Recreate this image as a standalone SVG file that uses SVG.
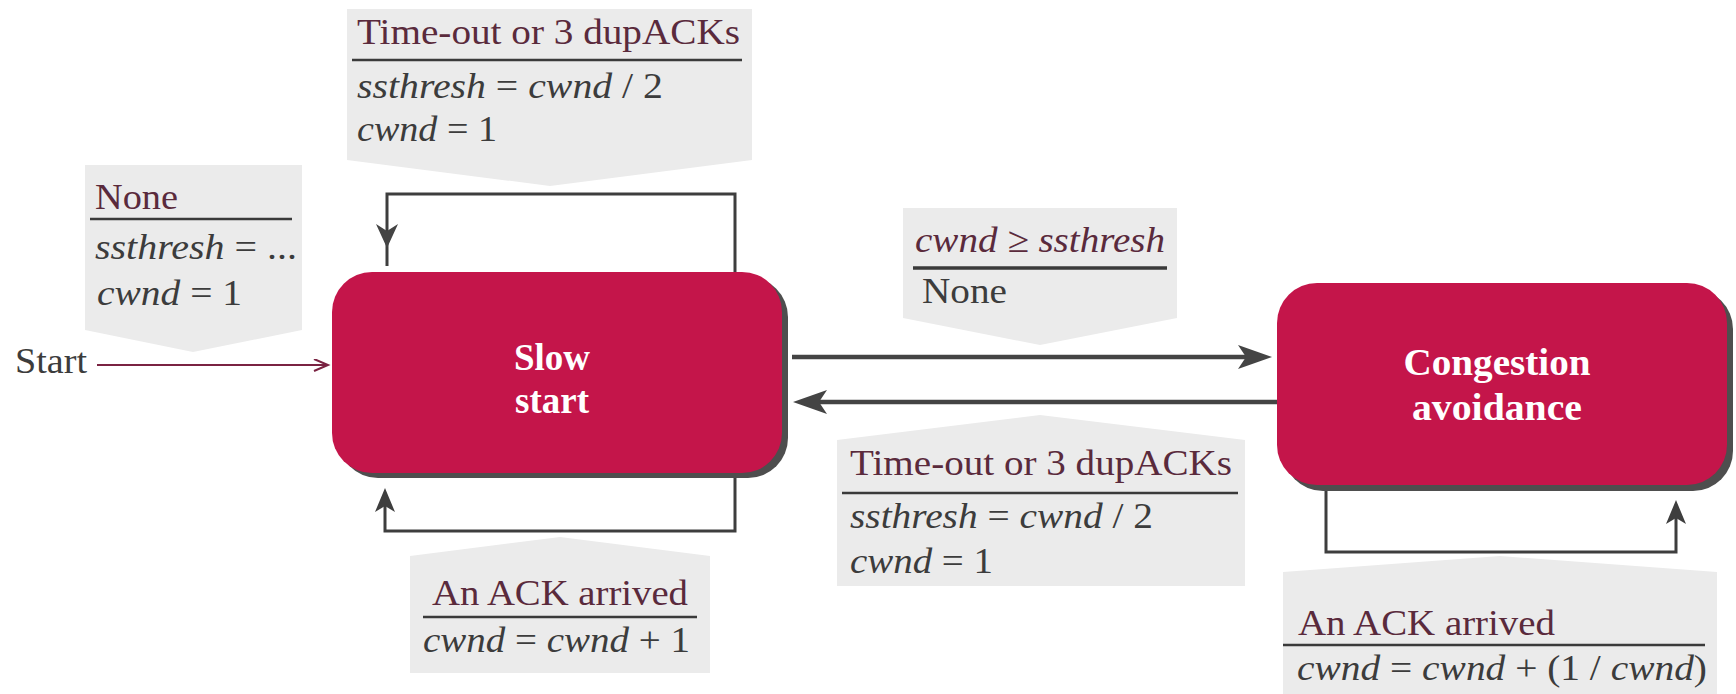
<svg xmlns="http://www.w3.org/2000/svg" width="1736" height="694" viewBox="0 0 1736 694">
<style>
  .bg { fill: #ebebeb; }
  .ev { font-family: "Liberation Serif", "Times New Roman", serif; font-size: 36px; fill: #5a2a3c; }
  .act { font-family: "Liberation Serif", "Times New Roman", serif; font-size: 36px; fill: #3c3c3c; }
  .it { font-style: italic; }
  .rule { stroke: #3a3a3a; stroke-width: 2.5; }
  .state { fill: #c4154a; }
  .shadow { fill: #4e4e4e; }
  .stxt { font-family: "Liberation Serif", "Times New Roman", serif; font-size: 37px; font-weight: bold; fill: #ffffff; text-anchor: middle; }
  .thick { fill: none; stroke: #444444; stroke-width: 4.5; }
  .loop { fill: none; stroke: #3e3e3e; stroke-width: 3; }
  .head { fill: #444444; }
</style>
<defs>
  <marker id="bigHead" markerUnits="userSpaceOnUse" markerWidth="36" markerHeight="26" refX="12" refY="12" orient="auto">
    <path d="M0,0 L34,12 L0,24 L8,12 Z" fill="#444444"/>
  </marker>
  <marker id="smallHead" markerUnits="userSpaceOnUse" markerWidth="26" markerHeight="22" refX="10" refY="10" orient="auto">
    <path d="M0,0 L24,10 L0,20 L6,10 Z" fill="#3e3e3e"/>
  </marker>
  <marker id="startHead" markerUnits="userSpaceOnUse" markerWidth="18" markerHeight="14" refX="15" refY="6" orient="auto">
    <path d="M1,0 L15,6 L1,12" fill="none" stroke="#7a2342" stroke-width="2"/>
  </marker>
</defs>

<!-- label backgrounds -->
<g id="label-backgrounds">
  <polygon class="bg" points="347,9 752,9 752,160 550,186 347,160"/>
  <polygon class="bg" points="85,165 302,165 302,330 193,352 85,330"/>
  <polygon class="bg" points="903,208 1177,208 1177,318 1040,345 903,318"/>
  <polygon class="bg" points="837,440 1040,415 1245,440 1245,586 837,586"/>
  <polygon class="bg" points="410,556 560,537 710,556 710,673 410,673"/>
  <polygon class="bg" points="1283,572 1500,556 1717,572 1717,694 1283,694"/>
</g>

<!-- connectors -->
<g id="connectors">
  <text x="15" y="373" class="act" textLength="72" lengthAdjust="spacingAndGlyphs">Start</text>
  <line x1="97" y1="365" x2="328" y2="365" stroke="#7a2342" stroke-width="2" marker-end="url(#startHead)"/>
  <line x1="792" y1="357" x2="1250" y2="357" class="thick" marker-end="url(#bigHead)"/>
  <line x1="1277" y1="402" x2="815" y2="402" class="thick" marker-end="url(#bigHead)"/>
  <!-- slow start top self-loop -->
  <path d="M735,272 V194 H387 V266" class="loop"/>
  <path d="M376,224 L387,248 L398,224 L387,231 Z" class="head"/>
  <!-- slow start bottom self-loop -->
  <path d="M735,478 V531 H385 V502" class="loop" marker-end="url(#smallHead)"/>
  <!-- congestion avoidance bottom self-loop -->
  <path d="M1326,490 V552 H1676 V514" class="loop" marker-end="url(#smallHead)"/>
</g>

<!-- states -->
<g id="slow-start">
  <rect class="shadow" x="338" y="277" width="450" height="201" rx="40" ry="40"/>
  <rect class="state" x="332" y="272" width="450" height="201" rx="40" ry="40"/>
  <text class="stxt" x="552" y="370">Slow</text>
  <text class="stxt" x="552" y="413">start</text>
</g>
<g id="congestion-avoidance">
  <rect class="shadow" x="1283" y="289" width="450" height="202" rx="40" ry="40"/>
  <rect class="state" x="1277" y="283" width="450" height="202" rx="40" ry="40"/>
  <text class="stxt" x="1497" y="375" textLength="187" lengthAdjust="spacingAndGlyphs">Congestion</text>
  <text class="stxt" x="1497" y="420" textLength="170" lengthAdjust="spacingAndGlyphs">avoidance</text>
</g>

<!-- labels -->
<g id="label-start">
  <text class="ev" x="95" y="209" textLength="83" lengthAdjust="spacingAndGlyphs">None</text>
  <line class="rule" x1="90" y1="219" x2="292" y2="219"/>
  <text class="act" x="95" y="259" textLength="202" lengthAdjust="spacingAndGlyphs"><tspan class="it">ssthresh</tspan> = ...</text>
  <text class="act" x="97" y="305" textLength="145" lengthAdjust="spacingAndGlyphs"><tspan class="it">cwnd</tspan> = 1</text>
</g>
<g id="label-ss-timeout">
  <text class="ev" x="357" y="44" textLength="383" lengthAdjust="spacingAndGlyphs">Time-out or 3 dupACKs</text>
  <line class="rule" x1="352" y1="60" x2="742" y2="60"/>
  <text class="act" x="357" y="98" textLength="306" lengthAdjust="spacingAndGlyphs"><tspan class="it">ssthresh</tspan> = <tspan class="it">cwnd</tspan> / 2</text>
  <text class="act" x="357" y="141" textLength="140" lengthAdjust="spacingAndGlyphs"><tspan class="it">cwnd</tspan> = 1</text>
</g>
<g id="label-ss-to-ca">
  <text class="ev it" x="915" y="252" textLength="250" lengthAdjust="spacingAndGlyphs">cwnd ≥ ssthresh</text>
  <line class="rule" x1="913" y1="268" x2="1167" y2="268" style="stroke-width:3.5"/>
  <text class="act" x="922" y="303" textLength="85" lengthAdjust="spacingAndGlyphs">None</text>
</g>
<g id="label-ca-timeout">
  <text class="ev" x="850" y="475" textLength="382" lengthAdjust="spacingAndGlyphs">Time-out or 3 dupACKs</text>
  <line class="rule" x1="842" y1="493" x2="1238" y2="493"/>
  <text class="act" x="850" y="528" textLength="303" lengthAdjust="spacingAndGlyphs"><tspan class="it">ssthresh</tspan> = <tspan class="it">cwnd</tspan> / 2</text>
  <text class="act" x="850" y="573" textLength="143" lengthAdjust="spacingAndGlyphs"><tspan class="it">cwnd</tspan> = 1</text>
</g>
<g id="label-ss-ack">
  <text class="ev" x="432" y="605" textLength="256" lengthAdjust="spacingAndGlyphs">An ACK arrived</text>
  <line class="rule" x1="423" y1="617" x2="697" y2="617"/>
  <text class="act" x="423" y="652" textLength="267" lengthAdjust="spacingAndGlyphs"><tspan class="it">cwnd</tspan> = <tspan class="it">cwnd</tspan> + 1</text>
</g>
<g id="label-ca-ack">
  <text class="ev" x="1298" y="635" textLength="257" lengthAdjust="spacingAndGlyphs">An ACK arrived</text>
  <line class="rule" x1="1283" y1="645" x2="1705" y2="645"/>
  <text class="act" x="1297" y="680" textLength="410" lengthAdjust="spacingAndGlyphs"><tspan class="it">cwnd</tspan> = <tspan class="it">cwnd</tspan> + (1 / <tspan class="it">cwnd</tspan>)</text>
</g>
</svg>
